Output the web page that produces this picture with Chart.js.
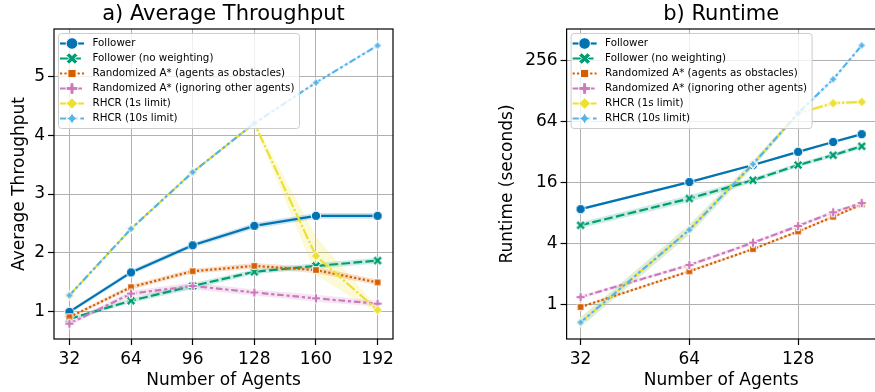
<!DOCTYPE html>
<html>
<head>
<meta charset="utf-8">
<script src="https://cdn.jsdelivr.net/npm/chart.js@4.4.1/dist/chart.umd.min.js"></script>
<style>
  html, body { margin: 0; padding: 0; background: #fff; overflow: hidden; width: 875px; height: 392px; }
  canvas { position: absolute; top: 0; }
  #chartA { left: 0; }
  #chartB { left: 470px; }
</style>
</head>
<body>
<canvas id="chartA" width="420" height="392"></canvas>
<canvas id="chartB" width="412" height="392"></canvas>
<script>
/* ===============================
   DATA
================================ */
const agents = [32, 64, 96, 128, 160, 192];
const methods = [
  "Follower",
  "Follower (no weighting)",
  "Randomized A* (agents as obstacles)",
  "Randomized A* (ignoring other agents)",
  "RHCR (1s limit)",
  "RHCR (10s limit)"
];

// a) average throughput
const thrFollower  = [1.00, 1.67, 2.13, 2.46, 2.63, 2.63];
const thrNoWeight  = [0.88, 1.19, 1.44, 1.68, 1.78, 1.87];
const thrObstacles = [0.91, 1.42, 1.69, 1.78, 1.71, 1.50];
const thrIgnoring  = [0.80, 1.31, 1.44, 1.33, 1.23, 1.14];
const thrRhcr1     = [1.28, 2.41, 3.37, 4.20, 1.95, 1.03];
const thrRhcr10    = [1.28, 2.41, 3.37, 4.20, 4.89, 5.52];
// half width of the shaded band
const thrErrFollower  = [0.03, 0.04, 0.04, 0.05, 0.05, 0.05];
const thrErrNoWeight  = [0.03, 0.04, 0.05, 0.04, 0.05, 0.05];
const thrErrObstacles = [0.02, 0.04, 0.04, 0.05, 0.05, 0.05];
const thrErrIgnoring  = [0.03, 0.05, 0.06, 0.05, 0.06, 0.05];
const thrErrRhcr1     = [0.02, 0.02, 0.02, 0.03, 0.33, 0.04];
const thrErrRhcr10    = [0.02, 0.02, 0.02, 0.02, 0.02, 0.03];

// b) runtime (seconds)
const rtFollower  = [8.8, 16.3, 24.0, 32.4, 40.6, 48.5];
const rtNoWeight  = [6.1, 11.2, 17.0, 24.0, 30.0, 36.8];
const rtObstacles = [0.95, 2.14, 3.55, 5.3, 7.4, 9.8];
const rtIgnoring  = [1.19, 2.47, 4.1, 6.0, 8.2, 10.1];
const rtRhcr1     = [0.67, 5.5, 24.5, 78, 98, 101];
const rtRhcr10    = [0.67, 5.5, 24.5, 78, 169, 365];
// relative half width of the shaded band
const rtErrFollower  = [0.03, 0.03, 0.03, 0.03, 0.03, 0.03];
const rtErrNoWeight  = [0.07, 0.08, 0.06, 0.05, 0.05, 0.05];
const rtErrObstacles = [0.03, 0.03, 0.03, 0.03, 0.03, 0.03];
const rtErrIgnoring  = [0.04, 0.04, 0.04, 0.04, 0.04, 0.04];
const rtErrRhcr1     = [0.12, 0.12, 0.08, 0.05, 0.04, 0.04];
const rtErrRhcr10    = [0.12, 0.12, 0.08, 0.05, 0.04, 0.04];

// ticks
const xTicksA = [32, 64, 96, 128, 160, 192];
const yTicksA = [1, 2, 3, 4, 5];
const xTicksB = [32, 64, 128];
const yTicksB = [1, 4, 16, 64, 256];

/* ===============================
   STYLE
================================ */
const FONT = "DejaVu Sans";
const colors = ["#0173b2", "#029e73", "#d55e00", "#cc78bc", "#ece133", "#56b4e9"];
const dashUnits = [[], [4, 1.5], [1, 1], [3, 1.25, 1.5, 1.25], [5, 1, 1, 1], [3, 1.25, 1.25, 1.25, 1.25, 1.25]];
const shapes = ["circle", "x", "square", "plus", "diamond", "star"];
const LW = 2.2;

Chart.defaults.font.family = FONT;
Chart.defaults.color = "#000";

function rgba(hex, a) {
  const n = parseInt(hex.slice(1), 16);
  return `rgba(${n >> 16},${(n >> 8) & 255},${n & 255},${a})`;
}

function tracePath(ctx, shape, r) {
  ctx.beginPath();
  if (shape === "circle") {
    ctx.arc(0, 0, r, 0, Math.PI * 2);
    return;
  }
  let pts;
  if (shape === "square") {
    const s = r / Math.SQRT2;
    pts = [[-s, -s], [s, -s], [s, s], [-s, s]];
  } else if (shape === "diamond") {
    pts = [[0, -r], [r, 0], [0, r], [-r, 0]];
  } else if (shape === "plus") {
    pts = [[-1, -3], [1, -3], [1, -1], [3, -1], [3, 1], [1, 1], [1, 3], [-1, 3], [-1, 1], [-3, 1], [-3, -1], [-1, -1]]
      .map(p => [p[0] * r / 3, p[1] * r / 3]);
  } else if (shape === "x") {
    pts = [[-1, -2], [0, -1], [1, -2], [2, -1], [1, 0], [2, 1], [1, 2], [0, 1], [-1, 2], [-2, 1], [-1, 0], [-2, -1]]
      .map(p => [p[0] * r / 2, p[1] * r / 2]);
  } else {
    pts = [];
    for (let k = 0; k < 8; k++) {
      const ang = -Math.PI / 2 + k * Math.PI / 4;
      const rr = k % 2 ? r * 0.5 : r;
      pts.push([rr * Math.cos(ang), rr * Math.sin(ang)]);
    }
  }
  ctx.moveTo(pts[0][0], pts[0][1]);
  pts.slice(1).forEach(p => ctx.lineTo(p[0], p[1]));
  ctx.closePath();
}

function drawMarker(ctx, shape, color, r) {
  tracePath(ctx, shape, r);
  ctx.fillStyle = color;
  ctx.fill();
  ctx.strokeStyle = "#fff";
  ctx.lineWidth = 1;
  ctx.setLineDash([]);
  ctx.stroke();
}

function makeMarker(shape, color, r) {
  const size = Math.ceil(2 * r + 4);
  const c = document.createElement("canvas");
  c.width = c.height = size;
  const ctx = c.getContext("2d");
  ctx.translate(size / 2, size / 2);
  drawMarker(ctx, shape, color, r);
  return c;
}

/* ===============================
   DATASETS
================================ */
function buildDatasets(series, errs, relative) {
  const ds = [];
  series.forEach((vals, i) => {
    const lo = vals.map((v, j) => relative ? v / (1 + errs[i][j]) : v - errs[i][j]);
    const hi = vals.map((v, j) => relative ? v * (1 + errs[i][j]) : v + errs[i][j]);
    ds.push({
      data: agents.map((a, j) => ({ x: a, y: lo[j] })),
      borderWidth: 0, borderColor: "rgba(0,0,0,0)", pointRadius: 0, fill: false, order: 100 + i
    });
    ds.push({
      data: agents.map((a, j) => ({ x: a, y: hi[j] })),
      borderWidth: 0, borderColor: "rgba(0,0,0,0)", pointRadius: 0,
      fill: "-1", backgroundColor: rgba(colors[i], 0.2), order: 100 + i
    });
  });
  series.forEach((vals, i) => {
    ds.push({
      label: methods[i],
      data: agents.map((a, j) => ({ x: a, y: vals[j] })),
      borderColor: colors[i],
      borderWidth: LW,
      borderDash: dashUnits[i].map(d => d * LW),
      pointStyle: makeMarker(shapes[i], colors[i], 4.7),
      pointRadius: 4,
      fill: false,
      tension: 0,
      order: 10 - i
    });
  });
  return ds;
}

/* ===============================
   SPINES + LEGEND
================================ */
const frameAndLegend = {
  id: "frameAndLegend",
  afterDatasetsDraw(chart) {
    const { ctx, chartArea: a } = chart;
    ctx.save();
    ctx.setLineDash([]);
    ctx.strokeStyle = "#000";
    ctx.lineWidth = 1.2;
    ctx.strokeRect(a.left, a.top, a.right - a.left, a.bottom - a.top);

    ctx.font = `10.3px "${FONT}"`;
    const rowH = 15;
    const x0 = a.left + 4.5, y0 = a.top + 4.5;
    const textW = Math.max(...methods.map(m => ctx.measureText(m).width));
    const w = 34 + textW + 5, h = rowH * 6 + 5, rad = 3;
    ctx.beginPath();
    ctx.moveTo(x0 + rad, y0);
    ctx.arcTo(x0 + w, y0, x0 + w, y0 + h, rad);
    ctx.arcTo(x0 + w, y0 + h, x0, y0 + h, rad);
    ctx.arcTo(x0, y0 + h, x0, y0, rad);
    ctx.arcTo(x0, y0, x0 + w, y0, rad);
    ctx.closePath();
    ctx.fillStyle = "rgba(255,255,255,0.8)";
    ctx.fill();
    ctx.strokeStyle = "#cccccc";
    ctx.lineWidth = 1;
    ctx.stroke();

    methods.forEach((m, i) => {
      const y = y0 + 10 + i * rowH;
      ctx.save();
      ctx.strokeStyle = colors[i];
      ctx.lineWidth = LW;
      ctx.setLineDash(dashUnits[i].map(d => d * LW));
      ctx.beginPath();
      ctx.moveTo(x0 + 1.5, y);
      ctx.lineTo(x0 + 25.5, y);
      ctx.stroke();
      ctx.translate(x0 + 13.5, y);
      drawMarker(ctx, shapes[i], colors[i], 5.8);
      ctx.restore();
      ctx.fillStyle = "#000";
      ctx.textBaseline = "middle";
      ctx.textAlign = "left";
      ctx.fillText(m, x0 + 34, y);
    });
    ctx.restore();
  }
};

/* ===============================
   AXES
================================ */
function axis(opts) {
  const horizontal = opts.horizontal;
  return {
    type: opts.type,
    min: opts.min,
    max: opts.max,
    bounds: "data",
    afterBuildTicks: s => { s.ticks = opts.ticks.map(v => ({ value: v })); },
    afterFit: s => {
      if (horizontal) s.height = 53; else s.width = opts.width;
      s.paddingLeft = 0; s.paddingRight = 0; s.paddingTop = 0; s.paddingBottom = 0;
    },
    grid: { color: "#b0b0b0", lineWidth: 1, tickLength: 6, tickColor: "#000", tickWidth: 1.2 },
    border: { display: false },
    ticks: {
      font: { family: FONT, size: 17 },
      color: "#000",
      padding: horizontal ? 4 : 3,
      maxRotation: 0,
      autoSkip: false,
      callback: v => String(v)
    },
    title: {
      display: true,
      text: opts.title,
      font: { family: FONT, size: 17 },
      color: "#000",
      padding: horizontal ? { top: 0, bottom: 1 } : { top: opts.titlePad, bottom: 0 }
    }
  };
}

function makeChart(id, title, series, errs, relative, xs, ys, padRight) {
  return new Chart(document.getElementById(id), {
    type: "line",
    data: { datasets: buildDatasets(series, errs, relative) },
    options: {
      responsive: false,
      animation: false,
      layout: { padding: { left: 0, right: padRight, top: 0, bottom: 0 } },
      plugins: {
        legend: { display: false },
        tooltip: { enabled: false },
        title: {
          display: true,
          text: title,
          fullSize: false,
          color: "#000",
          font: { family: FONT, size: 21, weight: "normal" },
          padding: { top: 2, bottom: 1.8 }
        }
      },
      scales: { x: axis(xs), y: axis(ys) }
    },
    plugins: [frameAndLegend]
  });
}

makeChart("chartA", "a) Average Throughput",
  [thrFollower, thrNoWeight, thrObstacles, thrIgnoring, thrRhcr1, thrRhcr10],
  [thrErrFollower, thrErrNoWeight, thrErrObstacles, thrErrIgnoring, thrErrRhcr1, thrErrRhcr10],
  false,
  { horizontal: true, type: "linear", min: 24, max: 200, ticks: xTicksA, title: "Number of Agents" },
  { horizontal: false, type: "linear", min: 0.54, max: 5.8, ticks: yTicksA, title: "Average Throughput", width: 54, titlePad: 9 },
  27);

makeChart("chartB", "b) Runtime",
  [rtFollower, rtNoWeight, rtObstacles, rtIgnoring, rtRhcr1, rtRhcr10],
  [rtErrFollower, rtErrNoWeight, rtErrObstacles, rtErrIgnoring, rtErrRhcr1, rtErrRhcr10],
  true,
  { horizontal: true, type: "logarithmic", min: 29.27, max: 210, ticks: xTicksB, title: "Number of Agents" },
  { horizontal: false, type: "logarithmic", min: 0.459, max: 530, ticks: yTicksB, title: "Runtime (seconds)", width: 96.6, titlePad: 27 },
  0);
</script>
</body>
</html>
